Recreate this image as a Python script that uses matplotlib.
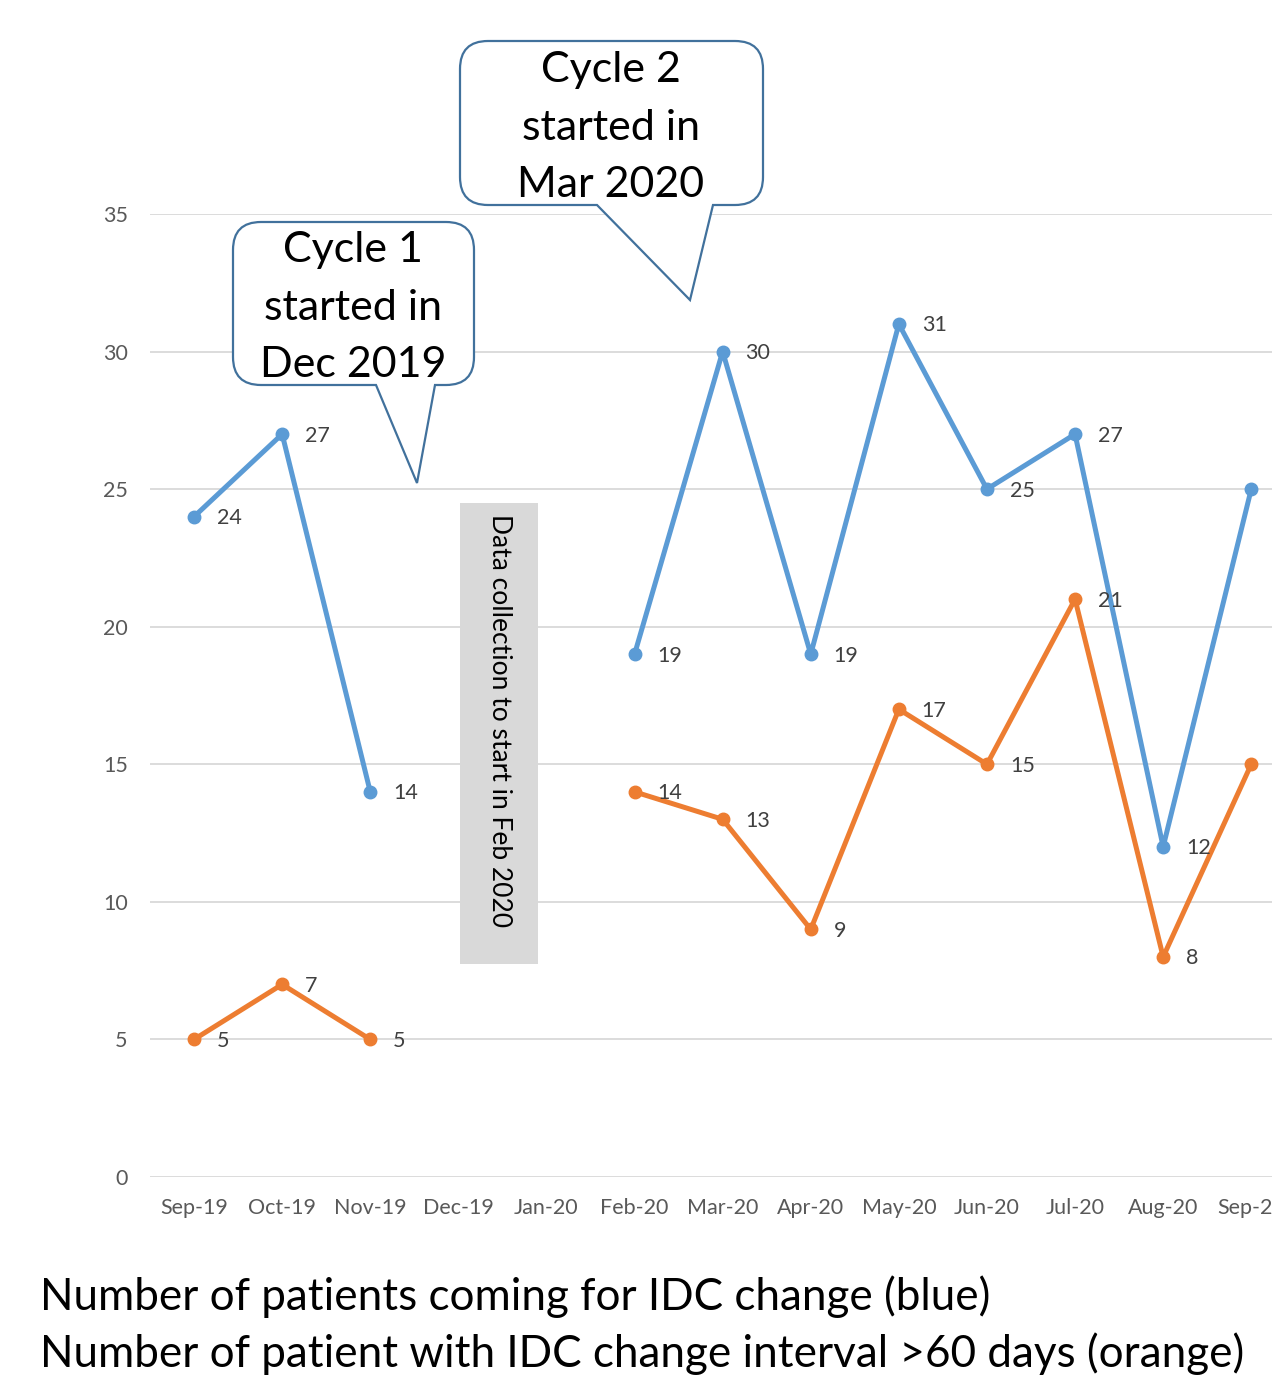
import numpy as np
import matplotlib
matplotlib.use("Agg")
import matplotlib.pyplot as plt
from matplotlib.path import Path
from matplotlib.patches import PathPatch, Rectangle
from matplotlib.transforms import Affine2D

months = ["Sep-19", "Oct-19", "Nov-19", "Dec-19", "Jan-20", "Feb-20", "Mar-20",
          "Apr-20", "May-20", "Jun-20", "Jul-20", "Aug-20", "Sep-20"]
blue_vals = [24, 27, 14, np.nan, np.nan, 19, 30, 19, 31, 25, 27, 12, 25]
orange_vals = [5, 7, 5, np.nan, np.nan, 14, 13, 9, 17, 15, 21, 8, 15]
y_ticks = [0, 5, 10, 15, 20, 25, 30, 35]

FONT = "Lato"
plt.rcParams["font.family"] = [FONT, "DejaVu Sans"]

W, H = 1272, 1376
fig = plt.figure(figsize=(W / 100, H / 100), dpi=100)

left_px, right_px = 150, 150 + 13 * 88.1
top_px, bot_px = 214, 1177
ax = fig.add_axes([left_px / W, (H - bot_px) / H, (right_px - left_px) / W, (bot_px - top_px) / H])
ax.set_xlim(-0.5, len(months) - 0.5)
ax.set_ylim(0, 35)
ax.set_yticks(y_ticks)
ax.set_xticks(range(len(months)))
ax.set_xticklabels(months)
for s in ax.spines.values():
    s.set_visible(False)
ax.tick_params(axis="both", length=0, labelsize=15.5, labelcolor="#595959")
ax.tick_params(axis="x", pad=15)
ax.tick_params(axis="y", pad=16)
ax.grid(axis="y", color="#d9d9d9", lw=1.3)
ax.set_axisbelow(True)

x = np.arange(len(months))
blue = "#5b9bd5"
orange = "#ed7d31"
for vals, c in [(blue_vals, blue), (orange_vals, orange)]:
    ax.plot(x, vals, color=c, lw=3.6, marker="o", ms=9, solid_capstyle="round", zorder=3)
    for xi, v in zip(x, vals):
        if not np.isnan(v):
            ax.annotate(f"{int(v)}", (xi, v), xytext=(16.5, -1), textcoords="offset points",
                        ha="left", va="center", fontsize=15.5, color="#404040", zorder=4)

# pixel transform (top-left origin)
pix = Affine2D().scale(1 / W, -1 / H).translate(0, 1) + fig.transFigure


def callout(x0, y0, x1, y1, r, tb1, tb2, tip):
    verts = [(x0 + r, y0), (x1 - r, y0), (x1, y0), (x1, y0 + r), (x1, y1 - r), (x1, y1),
             (x1 - r, y1), (tb2, y1), tip, (tb1, y1), (x0 + r, y1), (x0, y1), (x0, y1 - r),
             (x0, y0 + r), (x0, y0), (x0 + r, y0), (x0 + r, y0)]
    codes = [Path.MOVETO, Path.LINETO, Path.CURVE3, Path.CURVE3, Path.LINETO, Path.CURVE3,
             Path.CURVE3, Path.LINETO, Path.LINETO, Path.LINETO, Path.LINETO, Path.CURVE3,
             Path.CURVE3, Path.LINETO, Path.CURVE3, Path.CURVE3, Path.CLOSEPOLY]
    p = PathPatch(Path(verts, codes), facecolor="white", edgecolor="#41719c", lw=1.6,
                  transform=pix, zorder=10)
    fig.add_artist(p)


callout(233, 222, 474, 385, 28, 376, 435, (417, 483))
callout(460, 41, 763, 205, 28, 597, 713, (690, 300))

for (cx, ys, lines) in [(353, [250, 308, 365], ["Cycle 1", "started in", "Dec 2019"]),
                        (611, [70, 128, 185], ["Cycle 2", "started in", "Mar 2020"])]:
    for yy, t in zip(ys, lines):
        fig.text(cx, yy, t, transform=pix, ha="center", va="center", fontsize=31,
                 color="black", zorder=11)

fig.add_artist(Rectangle((460, 503), 78, 461, transform=pix, facecolor="#d9d9d9",
                         edgecolor="none", zorder=5))
fig.text(499, 721, "Data collection to start in Feb 2020", transform=pix, rotation=270,
         ha="center", va="center", fontsize=19, color="black", zorder=6)

fig.text(40, 1297, "Number of patients coming for IDC change (blue)", transform=pix,
         ha="left", va="center", fontsize=31.7, color="black")
fig.text(40, 1354, "Number of patient with IDC change interval >60 days (orange)", transform=pix,
         ha="left", va="center", fontsize=31.7, color="black")

fig.savefig("out.png", dpi=100)
